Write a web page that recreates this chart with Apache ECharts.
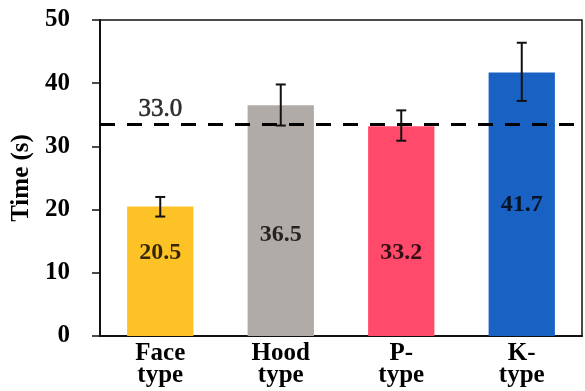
<!DOCTYPE html>
<html><head><meta charset="utf-8">
<script src="https://cdn.jsdelivr.net/npm/echarts@6/dist/echarts.min.js"></script>
<style>html,body{margin:0;padding:0;background:#fff}#c{width:585px;height:391px}</style>
</head><body><div id="c"></div>
<script>
const categories = ['Face\ntype', 'Hood\ntype', 'P-\ntype', 'K-\ntype'];
const values = [20.5, 36.5, 33.2, 41.7];
const errLow = [18.9, 33.3, 30.9, 37.2];
const errHigh = [22.0, 39.8, 35.7, 46.4];
const barColors = ['#FCC226', '#B0ABA7', '#FF4A6B', '#1A61C4'];
const valueLabelAt = [13.1, 16.0, 13.1, 20.7];
const refLineValue = 33.5;
const refLineText = '33.0';
const refLabelAt = 35.8;
const yTicks = [0, 10, 20, 30, 40, 50];

const font = 'Liberation Serif, Times New Roman, serif';
const chart = echarts.init(document.getElementById('c'));
chart.setOption({
  animation: false,
  grid: { left: 100, right: 3, top: 20, bottom: 55, show: true, borderColor: '#111', borderWidth: 1.5 },
  xAxis: {
    type: 'category', data: categories,
    axisLine: { lineStyle: { color: '#111', width: 2 } },
    axisTick: { show: false },
    axisLabel: { color: '#000', fontFamily: font, fontWeight: 'bold', fontSize: 25, lineHeight: 22, margin: 7 }
  },
  yAxis: {
    type: 'value', min: yTicks[0], max: yTicks[yTicks.length - 1], interval: 10,
    name: 'Time (s)', nameLocation: 'middle', nameGap: 62,
    nameTextStyle: { color: '#000', fontFamily: font, fontWeight: 'bold', fontSize: 25 },
    axisLine: { show: true, lineStyle: { color: '#111', width: 2 } },
    axisTick: { show: true, length: 8, lineStyle: { color: '#111', width: 1.5 } },
    splitLine: { show: false },
    axisLabel: { color: '#000', fontFamily: font, fontWeight: 'bold', fontSize: 25, margin: 30 }
  },
  series: [
    {
      type: 'bar', barWidth: '55%',
      data: values.map((v, i) => ({ value: v, itemStyle: { color: barColors[i] } })),
      markLine: {
        silent: true, symbol: 'none',
        lineStyle: { color: '#000', width: 3, type: [15, 12] },
        label: { show: false },
        data: [{ yAxis: refLineValue }]
      },
      z: 2
    },
    {
      type: 'custom',
      data: errLow.map((l, i) => [i, l, errHigh[i]]),
      renderItem: function (params, api) {
        const lo = api.coord([api.value(0), api.value(1)]);
        const hi = api.coord([api.value(0), api.value(2)]);
        const w = 5;
        const st = { stroke: '#111', lineWidth: 2 };
        return { type: 'group', children: [
          { type: 'line', shape: { x1: lo[0], y1: lo[1], x2: hi[0], y2: hi[1] }, style: st },
          { type: 'line', shape: { x1: lo[0] - w, y1: lo[1], x2: lo[0] + w, y2: lo[1] }, style: st },
          { type: 'line', shape: { x1: hi[0] - w, y1: hi[1], x2: hi[0] + w, y2: hi[1] }, style: st }
        ] };
      },
      z: 5
    },
    {
      type: 'scatter', symbolSize: 0,
      data: valueLabelAt.map((v, i) => [i, v]),
      label: { show: true, position: 'inside', formatter: p => values[p.dataIndex].toFixed(1),
        color: '#000', fontFamily: font, fontWeight: 'bold', fontSize: 24 },
      z: 6
    },
    {
      type: 'scatter', symbolSize: 0,
      data: [[0, refLabelAt]],
      label: { show: true, position: 'inside', formatter: refLineText,
        color: '#000', fontFamily: font, fontSize: 25, textBorderColor: '#000', textBorderWidth: 0.6 },
      z: 6
    }
  ]
});
</script></body></html>
